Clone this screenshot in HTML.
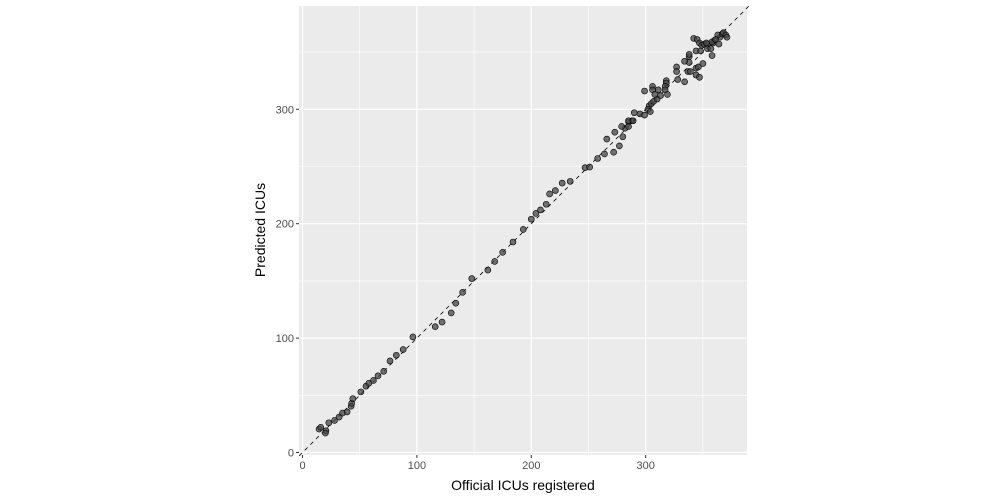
<!DOCTYPE html>
<html><head><meta charset="utf-8"><style>
html,body{margin:0;padding:0;background:#fff;}
svg{display:block;font-family:"Liberation Sans",sans-serif;}
</style></head><body>
<svg id="chart" width="1000" height="500" viewBox="0 0 1000 500">
<rect x="299" y="6" width="448" height="449" fill="#ebebeb"/>
<g id="grid"></g>
<line id="refline" stroke="#000" stroke-width="0.8" stroke-dasharray="4,4"/>
<g id="points"></g>
<g id="axes"></g>
<text x="523" y="490" text-anchor="middle" font-size="14" fill="#000">Official ICUs registered</text>
<text transform="translate(265,230) rotate(-90)" text-anchor="middle" font-size="14" fill="#000">Predicted ICUs</text>
</svg>
<script>
const officialICUs=[14.5,16,20.5,20,23,28,32,35,39,42.5,43,44,51,55.5,58,62,66,71,76.5,82,88,96.5,116,122,130,134,140,148,162,168,175,184,193,200,204,208,213,216,221,227,234,247,251,258,264,266,272,273,277,280,282,285,288,295,
279,285,285,289,290,299,303,305,302,304,307,310,313,299,306,306,311,308,318,318,317,317,319,327,327,328,334,337,339,338,338,338,334,344,346,344,347,350,344,348,342,345,347,349,351,354,354,357,358,360,359,364,365,363,367,368,370,371,358,361,353];
const predictedICUs=[20.5,22,19,17,26,28,31,34.5,35.5,40.5,43,47,53,58,60.5,63,67,71,80,85,90,101,110,114,122,130.5,140,152,159.5,167,175,184,195,204,209,212,217,226,229,235.5,237,249,249.5,257,261,274,262.5,280,268,276,283.5,289,290,296,
285,285,290,290,297,295,303,305,300,298,307,309,312,316,320,317,317,313,325,323,320,317,313,337,333,326,324,333,333,341,346,348,342,336,337,330,328,340,351,351,362,361,358,356,357,357,353,353,347,360,358,357,363,365,366,367,365,363,359,361,358];
const xTicks=[0,100,200,300];
const yTicks=[0,100,200,300];
const minorTicks=[50,150,250,350];

const NS="http://www.w3.org/2000/svg";
const X0=302.5,Y0=452.5,K=1.144;
const PL=299,PR=747,PT=6,PB=455;
function sx(v){return X0+v*K;}
function sy(v){return Y0-v*K;}
function mk(tag,attrs,parent){const e=document.createElementNS(NS,tag);for(const k in attrs)e.setAttribute(k,attrs[k]);parent.appendChild(e);return e;}
const grid=document.getElementById('grid');
minorTicks.forEach(t=>{
  let l=mk('line',{x1:sx(t),x2:sx(t),y1:PT,y2:PB,stroke:'#fff','stroke-width':0.6},grid);
  
  
  let m=mk('line',{x1:PL,x2:PR,y1:sy(t),y2:sy(t),stroke:'#fff','stroke-width':0.6},grid);
  
  
});
const axes=document.getElementById('axes');
xTicks.forEach(t=>{
  let l=mk('line',{x1:sx(t),x2:sx(t),y1:PT,y2:PB,stroke:'#fff','stroke-width':1.2},grid);
  
  
  let tk=mk('line',{x1:sx(t),x2:sx(t),y1:PB,y2:PB+3,stroke:'#333','stroke-width':1},axes);
  
  
  let tx=mk('text',{x:sx(t),y:PB+14,'text-anchor':'middle','font-size':11,fill:'#4d4d4d'},axes);
  tx.textContent=t;
  
  
});
yTicks.forEach(t=>{
  let l=mk('line',{x1:PL,x2:PR,y1:sy(t),y2:sy(t),stroke:'#fff','stroke-width':1.2},grid);
  
  
  let tk=mk('line',{x1:PL-3,x2:PL,y1:sy(t),y2:sy(t),stroke:'#333','stroke-width':1},axes);
  
  
  let tx=mk('text',{x:PL-5,y:sy(t)+4,'text-anchor':'end','font-size':11,fill:'#4d4d4d'},axes);
  tx.textContent=t;
  
  
});
const rl=document.getElementById('refline');
rl.setAttribute('x1',sx(-3));rl.setAttribute('y1',sy(-3));
rl.setAttribute('x2',sx(390));rl.setAttribute('y2',sy(390));
const pts=document.getElementById('points');
officialICUs.forEach((v,i)=>{
  let c=mk('circle',{cx:sx(v),cy:sy(predictedICUs[i]),r:3,fill:'rgba(70,70,70,0.75)',stroke:'#000','stroke-width':0.6},pts);
  
  
});
</script>
</body></html>
